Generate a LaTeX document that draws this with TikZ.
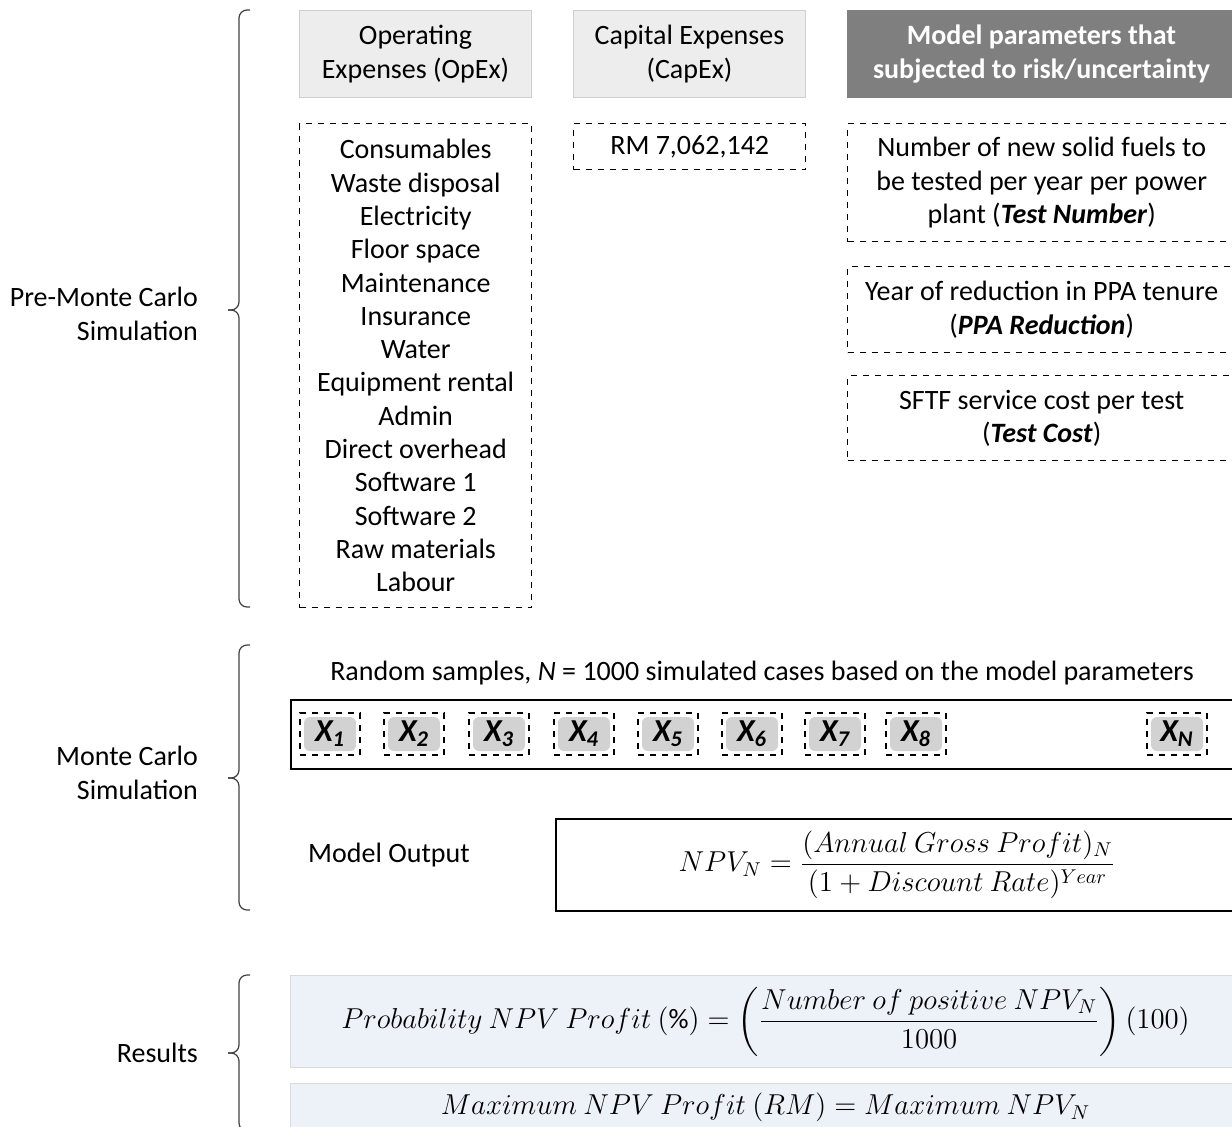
\documentclass[tikz,border=0pt]{standalone}
\usepackage{amsmath}
\usepackage{fontspec}
\setmainfont{Carlito}

\definecolor{hdrgray}{HTML}{EDEDED}
\definecolor{hdrline}{HTML}{CFCFCF}
\definecolor{pargray}{HTML}{7F7F7F}
\definecolor{resfill}{HTML}{EDF1F8}
\definecolor{resline}{HTML}{D6D9DE}
\definecolor{xgray}{HTML}{D2D2D2}

\tikzset{
  hdrbox/.style={fill=hdrgray, draw=hdrline, line width=0.5pt, minimum width=116pt,
    minimum height=43.5pt, align=center, inner sep=0pt, anchor=north west},
  listbox/.style={draw, dashed, line width=0.7pt, minimum width=116pt,
    align=center, inner sep=0pt, anchor=north west},
  parbox/.style={draw, dashed, line width=0.7pt, minimum width=194pt,
    align=center, inner sep=0pt, anchor=north west},
  xbox/.style={draw, dashed, line width=0.6pt, minimum width=30pt, minimum height=21pt,
    inner sep=0pt, font=\fontsize{16}{18}\selectfont\bfseries\itshape,
    path picture={\fill[xgray, rounded corners=3pt]
      ([shift={(2pt,-2pt)}]path picture bounding box.north west) rectangle
      ([shift={(-2pt,2pt)}]path picture bounding box.south east);}},
  resbox/.style={fill=resfill, draw=resline, line width=0.5pt, minimum width=475pt,
    inner sep=0pt, anchor=north west},
  sidelabel/.style={anchor=east, align=right},
  bracket/.style={draw=black!75, line width=0.6pt, rounded corners=4pt}
}

\begin{document}
\begin{tikzpicture}[x=0.5pt, y=-0.5pt, font=\fontsize{14}{16.65}\selectfont]
  \clip (0,0) rectangle (1232,1126);

  % Headers
  \node[hdrbox] (opexhdr) at (299,10) {Operating\\Expenses (OpEx)};
  \node[hdrbox] (capexhdr) at (573,10) {Capital Expenses\\(CapEx)};
  \node[hdrbox, fill=pargray, draw=pargray, minimum width=194pt, text=white,
    font=\fontsize{14}{16.65}\selectfont\bfseries] (parhdr) at (847,10)
    {Model parameters that\\subjected to risk/uncertainty};

  % OpEx items
  \node[listbox, minimum height=242pt] (opexlist) at (299,123)
    {Consumables\\Waste disposal\\Electricity\\Floor space\\Maintenance\\Insurance\\Water\\
     Equipment rental\\Admin\\Direct overhead\\Software 1\\Software 2\\Raw materials\\Labour};

  % CapEx value
  \node[listbox, minimum height=23pt] (capexval) at (573,123) {RM 7,062,142};

  % Uncertain parameters
  \node[parbox, minimum height=59pt] (testnum) at (847,123)
    {Number of new solid fuels to\\be tested per year per power\\plant (\textbf{\textit{Test Number}})};
  \node[parbox, minimum height=43pt] (ppared) at (847,266)
    {Year of reduction in PPA tenure\\(\textbf{\textit{PPA Reduction}})};
  \node[parbox, minimum height=42.5pt] (testcost) at (847,375)
    {SFTF service cost per test\\(\textbf{\textit{Test Cost}})};

  % Monte Carlo samples
  \node (samplestxt) at (762,673)
    {Random samples, \textit{N} = 1000 simulated cases based on the model parameters};
  \node[draw, line width=1pt, minimum width=476pt, minimum height=34.5pt, inner sep=0pt,
    anchor=north west] (samples) at (290,699) {};
  \foreach \x/\i in {330/1, 414/2, 499/3, 584/4, 668/5, 752/6, 835/7, 916/8, 1177/N} {
    \node[xbox] (x\i) at (\x,734) {X\textsubscript{\i}};
  }

  % Model output
  \node (outlabel) at (389,855) {Model Output};
  \node[draw, line width=0.8pt, minimum width=341pt, minimum height=46pt, inner sep=0pt,
    anchor=north west] (npvbox) at (555,818)
    {$NPV_N = \dfrac{(Annual\ Gross\ Profit)_N}{(1+Discount\ Rate)^{Year}}$};

  % Results
  \node[resbox, minimum height=46pt] (probres) at (290,975)
    {$Probability\ NPV\ Profit\ (\%) = \left(\dfrac{Number\ of\ positive\ NPV_N}{1000}\right)(100)$};
  \node[resbox, minimum height=24pt] (maxres) at (290,1083)
    {$Maximum\ NPV\ Profit\ (RM) = Maximum\ NPV_N$};

  % Stage brackets
  \foreach \t/\m/\b in {10/310/607, 645/778/910, 975/1053/1131} {
    \draw[bracket] (250,\t) -- (239,\t) -- (239,\m) -- (228,\m);
    \draw[bracket] (228,\m) -- (239,\m) -- (239,\b) -- (250,\b);
  }
  \node[sidelabel] (prelabel) at (205,314) {Pre-Monte Carlo\\Simulation};
  \node[sidelabel] (mclabel) at (205,773) {Monte Carlo\\Simulation};
  \node[sidelabel] (reslabel) at (205,1053) {Results};
\end{tikzpicture}
\end{document}
